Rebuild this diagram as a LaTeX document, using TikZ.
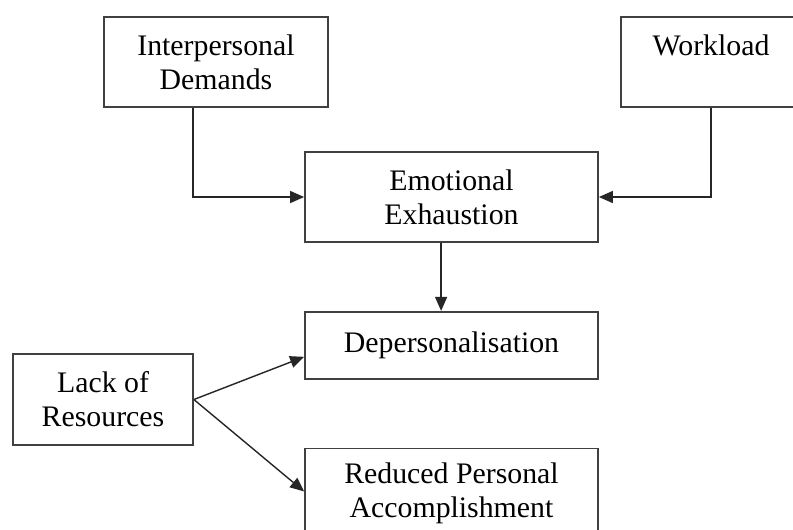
\documentclass[tikz,border=0pt]{standalone}
\usepackage{fontspec}
\setmainfont{Liberation Serif}
\usepackage{tikz}
\usetikzlibrary{arrows.meta, positioning}

\begin{document}
\begin{tikzpicture}[
  x=0.025cm, y=-0.025cm,
  node distance=1.7cm and 1.3cm,
  block/.style={rectangle, draw=black!75, line width=1.2pt,
                minimum width=7.325cm, minimum height=2.25cm,
                align=center, inner sep=0pt,
                font=\fontsize{21.2}{24.1}\selectfont},
  arr/.style={-{Triangle[length=0.35cm, width=0.3cm]}, line width=1pt, color=black!85}
]
  %% -- page frame (right and bottom boxes run off the edge) --
  \path[clip] (0,0) rectangle (793,529);
  \fill[white] (0,0) rectangle (793,529);

  %% -- Row 1: the two stressors --
  \node[block, minimum width=5.6cm] (inter) at (216,62) {Interpersonal\\Demands};
  \node[block, minimum width=4.5cm] (work)  at (711,62) {Workload\\\phantom{Workload}};

  %% -- centre column: the three burnout parts --
  \node[block] (emo) at (451.5,197) {Emotional\\Exhaustion};
  \node[block, below=of emo, minimum height=1.675cm] (depers) {Depersonalisation};
  \node[block, below=of depers] (reduced) {Reduced Personal\\Accomplishment};

  %% -- left side --
  \node[block, minimum width=4.5cm, minimum height=2.275cm] (lack) at (103,399.5) {Lack of\\Resources};

  %% -- Arrows --
  \draw[arr] ([xshift=-0.575cm]inter.south) |- (emo.west);
  \draw[arr] (work.south) |- (emo.east);
  \draw[arr] ([xshift=-0.26cm]emo.south) -- ([xshift=-0.26cm]emo.south |- depers.north);
  \draw[arr] (lack.east) -- ([yshift=-0.29cm]depers.west);
  \draw[arr] (lack.east) -- ([yshift=0.05cm]reduced.west);
\end{tikzpicture}
\end{document}
